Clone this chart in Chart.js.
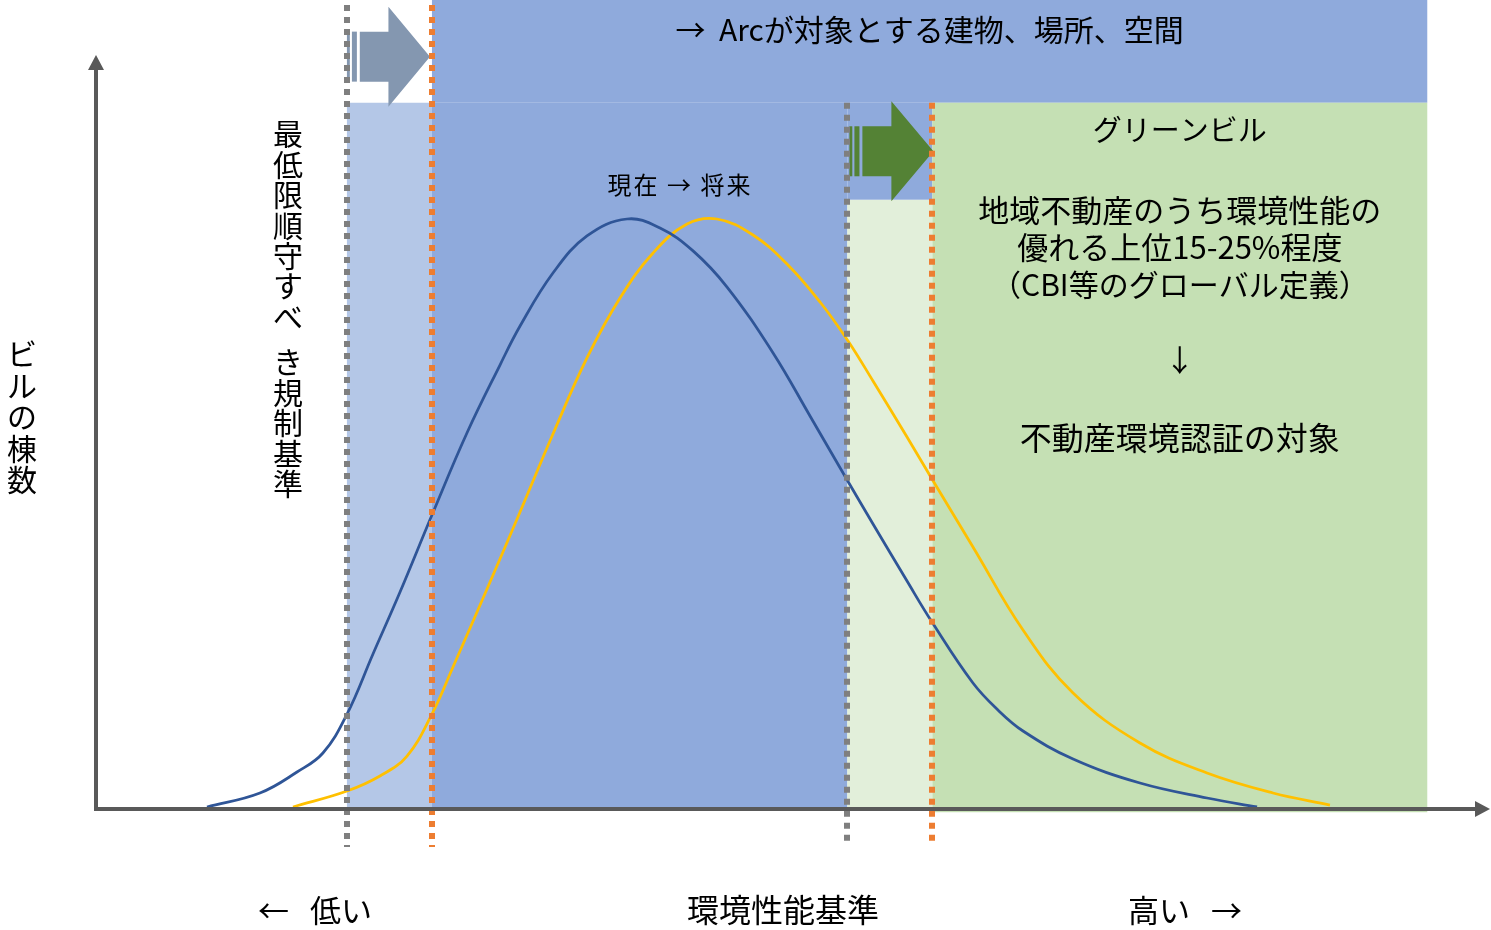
<!DOCTYPE html>
<html>
<head>
<meta charset="utf-8">
<script src="https://cdn.jsdelivr.net/npm/chart.js@4.4.1/dist/chart.umd.min.js"></script>
<style>
  html, body { margin: 0; padding: 0; background: #fff; }
  canvas { display: block; }
</style>
</head>
<body>
<canvas id="chart" width="1491" height="930"></canvas>
<script>
// 環境性能 (x, 0-100) vs ビルの棟数 (y, 0-100)
const nowX = [7.96, 11.76, 14.42, 16.28, 18.01, 19.87, 21.81, 24.10, 26.61, 28.98, 30.42, 32.78, 35.22, 38.09, 40.46, 42.83, 45.27, 48.57, 51.22, 53.80, 55.74, 58.18, 59.97, 62.91, 64.70, 66.50, 70.09, 74.89, 79.70, 83.29]
const nowY = [0.25, 1.98, 4.57, 6.92, 11.74, 19.16, 26.82, 36.34, 46.48, 54.88, 59.70, 66.25, 70.83, 72.93, 71.82, 68.99, 64.52, 56.37, 48.58, 40.92, 35.23, 28.18, 23.11, 15.57, 12.24, 9.64, 6.18, 3.21, 1.36, 0.25]

const futureX = [14.13, 18.01, 20.37, 22.31, 24.10, 25.61, 28.05, 30.42, 32.78, 35.22, 37.59, 39.96, 42.40, 44.55, 47.13, 49.57, 51.94, 53.95, 55.74, 58.18, 59.97, 62.91, 66.50, 70.09, 74.89, 79.70, 84.43, 88.52]
const futureY = [0.25, 2.22, 4.08, 6.55, 11.74, 17.55, 27.19, 36.71, 46.35, 55.75, 63.16, 68.73, 72.31, 72.93, 70.95, 67.37, 62.67, 57.85, 52.90, 45.98, 40.79, 32.39, 22.13, 14.34, 8.16, 4.45, 1.98, 0.49]

// thresholds: [minimum regulation, green building]
const thresholdNow = [18.0, 53.9]
const thresholdFuture = [24.1, 60.0]
const zoneEnd = 95.5
const bandBottom = 87.3      // bottom of the "Arc" band
const greenArrowBottom = 75.3
const arrowCenters = [93.0, 81.3]

const toPoints = (xs, ys) => xs.map((v, i) => ({ x: v, y: ys[i] }))

const FONT = '"Noto Sans CJK JP", "Noto Sans", sans-serif'

function fillBox(ctx, sx, sy, x0, x1, y0, y1, color) {
    const l = sx.getPixelForValue(x0), r = sx.getPixelForValue(x1)
    const t = sy.getPixelForValue(y1), b = sy.getPixelForValue(y0)
    ctx.fillStyle = color
    ctx.fillRect(l, t, r - l, b - t)
}

function stripedArrow(ctx, x0, x1, cy, color) {
    const L = x1 - x0
    ctx.fillStyle = color
    ctx.fillRect(x0, cy - 25, L * 0.035, 50)
    ctx.fillRect(x0 + L * 0.06, cy - 25, L * 0.06, 50)
    ctx.beginPath()
    ctx.moveTo(x0 + L * 0.155, cy - 25)
    ctx.lineTo(x0 + L * 0.5, cy - 25)
    ctx.lineTo(x0 + L * 0.5, cy - 50)
    ctx.lineTo(x1, cy)
    ctx.lineTo(x0 + L * 0.5, cy + 50)
    ctx.lineTo(x0 + L * 0.5, cy + 25)
    ctx.lineTo(x0 + L * 0.155, cy + 25)
    ctx.closePath()
    ctx.fill()
}

function dotted(ctx, x, yTop, yBottom, color) {
    ctx.save()
    ctx.strokeStyle = color
    ctx.lineWidth = 6
    ctx.setLineDash([6, 6])
    const cx = Math.round(x)
    ctx.beginPath()
    ctx.moveTo(cx, yTop)
    ctx.lineTo(cx, yBottom)
    ctx.stroke()
    ctx.restore()
}

function text(ctx, str, x, y, size, spacing) {
    ctx.font = size + 'px ' + FONT
    ctx.letterSpacing = (spacing || 0) + 'px'
    ctx.fillStyle = '#000'
    ctx.textAlign = 'center'
    ctx.textBaseline = 'middle'
    ctx.fillText(str, x + (spacing || 0) / 2, y)
    ctx.letterSpacing = '0px'
}

// vertical text, a space takes half a step
function vtext(ctx, str, x, y, size, pitch) {
    ctx.font = size + 'px ' + FONT
    ctx.fillStyle = '#000'
    ctx.textAlign = 'center'
    ctx.textBaseline = 'middle'
    let cy = y
    for (const ch of str) {
        if (ch === ' ') { cy += pitch * 0.5; continue }
        ctx.fillText(ch, x, cy)
        cy += pitch
    }
}

const diagram = {
    id: 'diagram',
    beforeDatasetsDraw(chart) {
        const { ctx, scales: { x, y } } = chart
        ctx.save()
        fillBox(ctx, x, y, thresholdNow[0], thresholdFuture[0], 0, bandBottom, '#b4c7e7')
        fillBox(ctx, x, y, thresholdFuture[0], zoneEnd, bandBottom, 100, '#8faadc')
        fillBox(ctx, x, y, thresholdFuture[0], thresholdNow[1], 0, bandBottom, '#8faadc')
        fillBox(ctx, x, y, thresholdNow[1], thresholdFuture[1], greenArrowBottom, bandBottom, '#8faadc')
        fillBox(ctx, x, y, thresholdNow[1], thresholdFuture[1], 0, greenArrowBottom, '#e2efda')
        fillBox(ctx, x, y, thresholdFuture[1], zoneEnd, -0.4, bandBottom, '#c5e0b4')

        stripedArrow(ctx, x.getPixelForValue(thresholdNow[0]), x.getPixelForValue(thresholdFuture[0]) - 2,
            y.getPixelForValue(arrowCenters[0]), '#8497b0')
        stripedArrow(ctx, x.getPixelForValue(thresholdNow[1]) + 2, x.getPixelForValue(thresholdFuture[1]) + 1,
            y.getPixelForValue(arrowCenters[1]), '#548235')
        ctx.restore()
    },
    afterDatasetsDraw(chart) {
        const { ctx, chartArea, scales: { x, y } } = chart
        const y0 = y.getPixelForValue(0)
        ctx.save()
        // threshold lines
        dotted(ctx, x.getPixelForValue(thresholdNow[0]), 5, y0 + 38, '#7f7f7f')
        dotted(ctx, x.getPixelForValue(thresholdFuture[0]), 5, y0 + 38, '#ed7d31')
        dotted(ctx, x.getPixelForValue(thresholdNow[1]), y.getPixelForValue(bandBottom), y0 + 33, '#7f7f7f')
        dotted(ctx, x.getPixelForValue(thresholdFuture[1]), y.getPixelForValue(bandBottom), y0 + 33, '#ed7d31')

        // axes with arrow heads
        const ax = chartArea.left
        ctx.strokeStyle = '#595959'
        ctx.fillStyle = '#595959'
        ctx.lineWidth = 4
        ctx.beginPath()
        ctx.moveTo(ax - 1, y0)
        ctx.lineTo(chartArea.right - 12, y0)
        ctx.moveTo(ax, y0 + 2)
        ctx.lineTo(ax, 68)
        ctx.stroke()
        ctx.beginPath()
        ctx.moveTo(chartArea.right, y0)
        ctx.lineTo(chartArea.right - 15, y0 - 8)
        ctx.lineTo(chartArea.right - 15, y0 + 8)
        ctx.closePath()
        ctx.fill()
        ctx.beginPath()
        ctx.moveTo(ax, 55)
        ctx.lineTo(ax - 8, 70)
        ctx.lineTo(ax + 8, 70)
        ctx.closePath()
        ctx.fill()

        // labels
        const arcMid = (x.getPixelForValue(thresholdFuture[0]) + x.getPixelForValue(zoneEnd)) / 2
        const greenMid = (x.getPixelForValue(thresholdFuture[1]) + x.getPixelForValue(zoneEnd)) / 2
        text(ctx, '→  Arcが対象とする建物、場所、空間', arcMid, 30, 30)
        text(ctx, 'グリーンビル', greenMid, 130, 29)
        text(ctx, '地域不動産のうち環境性能の', greenMid, 210, 31)
        text(ctx, '優れる上位15-25%程度', greenMid, 247, 31)
        text(ctx, '（CBI等のグローバル定義）', greenMid, 285, 30)
        text(ctx, '↓', greenMid, 360, 30)
        text(ctx, '不動産環境認証の対象', greenMid, 438, 32)
        text(ctx, '現在 → 将来', 679, 185, 24, 2)
        vtext(ctx, '最低限順守すべ き規制基準', 288, 134, 30, 30.4)
        vtext(ctx, 'ビルの棟数', 22, 354, 30, 31.5)
        text(ctx, '←   低い', 315, 910, 31)
        text(ctx, '環境性能基準', 783, 910, 32)
        text(ctx, '高い   →', 1185, 910, 31)
        ctx.restore()
    }
}

const chart = new Chart(document.getElementById('chart'), {
    type: 'line',
    data: {
        datasets: [
            {
                label: '現在',
                data: toPoints(nowX, nowY),
                borderColor: '#2f5597',
                borderWidth: 2.75,
                tension: 0.4,
                fill: false,
            },
            {
                label: '将来',
                data: toPoints(futureX, futureY),
                borderColor: '#ffc000',
                borderWidth: 2.75,
                tension: 0.4,
                fill: false,
            },
        ],
    },
    options: {
        responsive: false,
        animation: false,
        layout: { padding: { left: 96, right: 1, top: 0, bottom: 121 } },
        elements: { point: { radius: 0, hoverRadius: 0 } },
        scales: {
            x: { type: 'linear', min: 0, max: 100, display: false },
            y: { min: 0, max: 100, display: false },
        },
        plugins: {
            legend: { display: false },
            tooltip: { enabled: false },
        },
    },
    plugins: [diagram],
})
</script>
</body>
</html>
